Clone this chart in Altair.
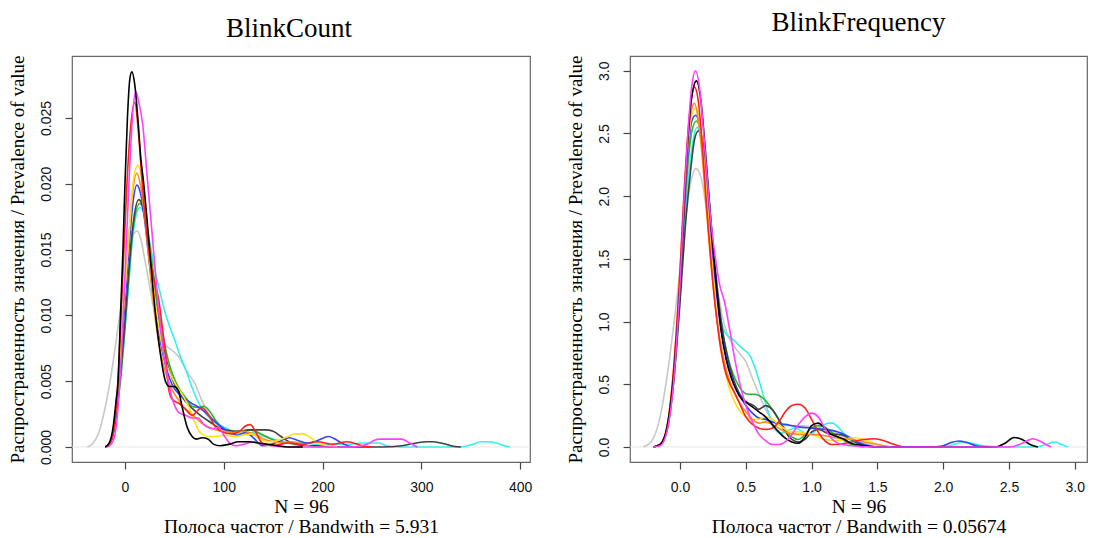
import altair as alt
import pandas as pd

# ---------------- BlinkCount (left panel) ----------------
bc_names = ["lightgray", "cyan", "green", "darkgray", "blue", "orange", "yellow", "red", "magenta", "black"]
bc_colors = ["#C8C8C8", "#33F0F0", "#2DB52D", "#404040", "#3344FF", "#FF8C1A", "#FFE020", "#FF2020", "#FF40FF", "#000000"]

bc_x = {
    "black": [-20,-16,-12,-9,-7,-4.5,-2,0,2.5,5,7,10,13,16,19,25,31,36,41,45,50,54,58,63,68,72,78,84,90,96,105,115,125,135,145,155,165,180],
    "magenta": [-18,-14,-10,-6,-3,0,4,8,11,14,18,22,26,30,34,38,42,46,50,55,62,68,74,80,88,95,100,106,112,120,130,140,150,160,175,200,230,245,252,258,265,272,280,288,296],
    "red": [-20,-15,-11,-7,-4,-1,2,6,10,13,17,21,25,30,34,38,41,44,48,55,62,68,74,78,84,92,100,108,116,122,127,132,139,150,165,180,195,210,225,240,250],
    "yellow": [-20,-16,-12,-8,-4,0,4,8,13,17,21,25,30,35,40,45,51,58,65,70,75,80,85,92,100,110,120,128,135,145,155,165,172,180,188,195,205,215],
    "orange": [-20,-16,-12,-8,-4,0,4,8,12,16,20,24,28,33,38,43,48,54,60,66,72,78,85,92,100,110,120,130,140,150,160,170,180,190],
    "blue": [-20,-16,-12,-8,-4,0,4,8,12,16,20,24,28,33,38,43,48,55,62,68,75,82,90,98,106,114,122,130,139,148,158,166,175,185,195,206,215,222,230],
    "darkgray": [-20,-16,-12,-8,-4,0,4,8,14,18,22,26,30,35,40,45,50,56,62,70,78,86,94,102,110,118,126,134,142,150,158,166,175,185,195,210,225,240,260,280,295,305,312,320,330,340],
    "green": [-20,-16,-12,-8,-4,0,4,8,15,19,23,27,31,36,41,46,51,56,62,68,74,80,86,92,100,108,116,124,132,140,148,156,165,175,185,200],
    "cyan": [-20,-16,-12,-8,-4,0,4,8,15,19,23,27,31,36,41,46,51,56,62,68,75,82,90,100,110,120,130,140,150,160,170,180,195,210,225,240,250,257,265,280,300,320,340,352,360,368,376,384,390],
    "lightgray": [-38,-32,-26,-20,-15,-10,-5,0,5,9,12.5,16,20,25,30,35,40,45,55,62,71,78,85,92,100,110,120,130,140,150,160,170,180],
}
bc_y = {
    "black": [0,.0003,.0015,.0035,.005,.010,.015,.020,.025,.028,.0285,.0275,.025,.022,.020,.015,.010,.007,.005,.0046,.0046,.0043,.003,.0015,.0008,.0006,.0007,.0006,.0002,.0001,.0002,.0004,.0004,.0003,.0002,.0001,0,0],
    "magenta": [0,.0002,.001,.004,.008,.013,.020,.0255,.027,.0262,.0245,.021,.0175,.014,.0105,.0078,.0058,.0042,.0032,.0026,.0024,.0022,.0022,.0017,.0014,.0015,.0009,.0003,.0001,.0002,.0004,.0002,.0001,0,0,0,0,.0002,.0005,.0006,.0006,.0006,.0006,.0003,0],
    "red": [0,.0003,.0015,.005,.010,.015,.020,.0245,.0262,.0245,.0205,.017,.0145,.0125,.0113,.009,.0072,.0045,.0036,.0033,.0028,.0024,.0028,.003,.0025,.0015,.0011,.001,.0012,.0016,.0017,.0012,.0003,.0001,.0003,.0002,.0004,.0002,.0004,.0001,0],
    "yellow": [0,.0002,.0012,.004,.008,.012,.016,.020,.0214,.0205,.018,.015,.0115,.0088,.0068,.0057,.0048,.004,.003,.002,.0012,.0009,.0008,.0008,.0009,.0008,.0009,.0010,.0007,.0004,.0005,.0008,.001,.001,.0007,.0003,.0001,0],
    "orange": [0,.0002,.0012,.004,.008,.012,.016,.0195,.0208,.0198,.0175,.0145,.0115,.0085,.0065,.0052,.0043,.0036,.003,.0026,.0022,.0018,.0015,.0013,.0012,.0011,.0012,.001,.0006,.0004,.0003,.0004,.0002,0],
    "blue": [0,.0002,.001,.0035,.007,.011,.015,.0185,.0199,.0192,.0172,.0145,.0118,.0092,.0072,.0057,.0047,.004,.0036,.0033,.003,.0026,.002,.0015,.0011,.0009,.0011,.0007,.0001,.0002,.0005,.0007,.0005,.0003,.0005,.0008,.0005,.0002,0],
    "darkgray": [0,.0002,.001,.003,.006,.0095,.0135,.0168,.0188,.0182,.0165,.0142,.0118,.0092,.0072,.0058,.0048,.004,.0034,.0028,.0023,.0019,.0015,.0013,.0012,.0012,.0013,.0013,.0013,.0012,.0008,.0004,.0002,.0001,.0001,0,0,0,0,.0001,.0003,.0004,.0004,.0003,.0001,0],
    "green": [0,.0002,.001,.003,.0055,.009,.013,.0165,.0185,.018,.0163,.0142,.012,.0095,.0075,.006,.005,.0043,.0037,.0031,.003,.0031,.0027,.002,.0014,.0012,.0012,.0013,.0012,.0009,.0006,.0004,.0003,.0002,.0001,0],
    "cyan": [0,.0002,.0009,.0028,.0055,.009,.0125,.016,.0182,.0178,.0165,.0148,.0132,.0116,.0101,.009,.008,.0069,.0058,.0045,.0033,.0025,.0019,.0015,.0012,.001,.0011,.0009,.0006,.0004,.0003,.0003,.0002,.0002,.0002,.0003,.0003,.0003,.0001,0,0,0,0,.0002,.0004,.0004,.0003,.0001,0],
    "lightgray": [0,.0003,.0012,.003,.005,.0075,.0102,.0128,.0152,.0162,.0164,.0158,.0143,.0122,.0102,.0087,.0078,.0075,.0068,.0058,.0048,.0035,.0025,.0018,.0013,.0011,.001,.0009,.0008,.0006,.0004,.0002,0],
}

# ---------------- BlinkFrequency (right panel) ----------------
bf_names = ["lightgray", "cyan", "green", "darkgray", "blue", "yellow", "orange", "red", "black", "magenta"]
bf_colors = ["#C8C8C8", "#33F0F0", "#2DB52D", "#404040", "#3344FF", "#FFE020", "#FF8C1A", "#FF2020", "#000000", "#FF40FF"]

bf_x = {
    "black": [-0.2,-0.15,-0.1,-0.05,0,0.03,0.06,0.09,0.125,0.16,0.19,0.22,0.25,0.28,0.31,0.35,0.39,0.43,0.47,0.51,0.55,0.6,0.65,0.7,0.75,0.8,0.85,0.9,0.95,1.0,1.05,1.1,1.15,1.2,1.25,1.3,1.4,1.5,1.6,1.8,2.0,2.2,2.4,2.47,2.54,2.6,2.66,2.72],
    "darkgray": [-0.2,-0.15,-0.1,-0.05,0,0.04,0.08,0.11,0.14,0.17,0.2,0.23,0.26,0.29,0.32,0.36,0.4,0.44,0.48,0.52,0.56,0.6,0.65,0.7,0.75,0.8,0.85,0.9,0.95,1.0,1.05,1.1,1.15,1.2,1.25,1.3,1.35,1.4,1.5],
    "red": [-0.2,-0.15,-0.1,-0.05,0,0.03,0.06,0.09,0.11,0.14,0.17,0.2,0.23,0.26,0.3,0.34,0.38,0.42,0.46,0.5,0.55,0.6,0.65,0.7,0.75,0.8,0.85,0.9,0.95,1.0,1.05,1.1,1.15,1.2,1.3,1.4,1.48,1.55,1.6,1.7],
    "magenta": [-0.2,-0.15,-0.1,-0.05,0,0.03,0.06,0.09,0.117,0.15,0.18,0.21,0.24,0.27,0.3,0.34,0.38,0.42,0.46,0.5,0.55,0.6,0.65,0.7,0.75,0.8,0.85,0.9,0.95,1.0,1.05,1.1,1.15,1.2,1.3,1.5,2.0,2.5,2.58,2.63,2.68,2.73,2.78,2.82],
    "orange": [-0.2,-0.15,-0.1,-0.05,0,0.03,0.06,0.09,0.11,0.14,0.17,0.2,0.23,0.26,0.3,0.34,0.38,0.42,0.46,0.5,0.55,0.6,0.65,0.7,0.75,0.8,0.9,1.0,1.1,1.2,1.3,1.4,1.5,1.6],
    "yellow": [-0.2,-0.15,-0.1,-0.05,0,0.03,0.06,0.09,0.12,0.15,0.18,0.21,0.24,0.27,0.3,0.34,0.38,0.42,0.46,0.5,0.55,0.6,0.65,0.7,0.75,0.8,0.85,0.9,1.0,1.1,1.2,1.28,1.33,1.4,1.5,1.6],
    "blue": [-0.2,-0.15,-0.1,-0.05,0,0.03,0.06,0.09,0.12,0.15,0.18,0.21,0.24,0.27,0.3,0.34,0.38,0.42,0.46,0.5,0.55,0.6,0.65,0.7,0.8,0.9,1.0,1.1,1.2,1.25,1.3,1.35,1.4,1.5,1.7,1.9,2.0,2.06,2.12,2.18,2.25,2.35],
    "green": [-0.2,-0.15,-0.1,-0.05,0,0.03,0.06,0.09,0.125,0.16,0.19,0.22,0.25,0.28,0.31,0.35,0.39,0.43,0.47,0.52,0.56,0.6,0.65,0.7,0.75,0.8,0.85,0.9,0.95,1.0,1.05,1.1,1.15,1.2,1.25,1.3,1.4],
    "cyan": [-0.2,-0.15,-0.1,-0.05,0,0.04,0.08,0.11,0.13,0.16,0.19,0.22,0.25,0.28,0.31,0.35,0.4,0.44,0.48,0.53,0.58,0.62,0.67,0.72,0.77,0.82,0.87,0.92,0.97,1.02,1.08,1.13,1.16,1.2,1.25,1.3,1.4,1.5,1.8,2.0,2.08,2.15,2.22,2.3,2.5,2.7,2.78,2.85,2.9,2.95],
    "lightgray": [-0.28,-0.22,-0.16,-0.1,-0.05,0,0.04,0.08,0.12,0.16,0.2,0.24,0.28,0.32,0.36,0.4,0.45,0.5,0.55,0.6,0.65,0.7,0.75,0.8,0.9,1.0,1.1,1.2,1.3,1.4,1.5],
}
bf_y = {
    "black": [0,.02,.15,.55,1.3,1.9,2.45,2.8,2.92,2.75,2.4,2.0,1.6,1.25,.95,.7,.55,.45,.38,.35,.32,.28,.24,.18,.12,.07,.04,.03,.08,.17,.19,.15,.1,.08,.06,.03,.01,0,0,0,0,0,0,.03,.075,.06,.02,0],
    "darkgray": [0,.02,.13,.5,1.15,1.75,2.2,2.45,2.52,2.45,2.2,1.85,1.5,1.2,.95,.72,.56,.45,.38,.35,.33,.3,.33,.3,.22,.12,.06,.04,.06,.12,.14,.12,.1,.1,.09,.06,.03,.01,0],
    "red": [0,.02,.15,.6,1.4,2.0,2.5,2.8,2.87,2.75,2.4,1.95,1.55,1.2,.85,.62,.5,.42,.33,.24,.18,.15,.14,.15,.2,.28,.33,.34,.31,.22,.12,.05,.02,.02,.04,.06,.066,.05,.03,0],
    "magenta": [0,.01,.12,.5,1.3,1.95,2.5,2.88,3.0,2.85,2.5,2.1,1.75,1.5,1.3,1.15,.92,.68,.48,.33,.2,.1,.05,.02,.02,.04,.1,.18,.24,.27,.24,.15,.07,.03,.01,0,0,0,.02,.045,.066,.05,.02,0],
    "orange": [0,.02,.16,.6,1.4,2.0,2.45,2.7,2.74,2.6,2.3,1.9,1.52,1.2,.88,.66,.52,.42,.34,.28,.22,.19,.2,.18,.15,.12,.1,.1,.09,.07,.06,.04,.02,0],
    "yellow": [0,.02,.15,.58,1.35,1.95,2.4,2.65,2.7,2.6,2.3,1.9,1.5,1.15,.85,.62,.45,.35,.28,.24,.22,.22,.24,.22,.18,.14,.12,.12,.1,.06,.05,.07,.074,.06,.02,0],
    "blue": [0,.02,.14,.55,1.3,1.9,2.35,2.6,2.645,2.55,2.3,1.95,1.6,1.3,1.02,.78,.6,.48,.4,.33,.27,.23,.22,.2,.18,.16,.15,.14,.12,.1,.07,.04,.02,0,0,0,.01,.035,.048,.035,.01,0],
    "green": [0,.02,.13,.52,1.25,1.8,2.25,2.52,2.6,2.5,2.22,1.88,1.55,1.25,1.0,.78,.62,.52,.45,.42,.42,.41,.37,.3,.22,.14,.08,.06,.1,.15,.17,.16,.12,.08,.05,.02,0],
    "cyan": [0,.02,.12,.5,1.2,1.85,2.3,2.5,2.55,2.45,2.2,1.85,1.5,1.22,1.02,.9,.86,.82,.78,.73,.6,.46,.28,.14,.11,.13,.15,.13,.1,.12,.17,.19,.19,.16,.1,.05,.02,0,0,0,.02,.04,.03,.01,0,0,.02,.04,.02,0],
    "lightgray": [0,.04,.2,.55,.95,1.4,1.8,2.1,2.22,2.15,1.9,1.6,1.3,1.05,.9,.82,.75,.68,.55,.42,.3,.22,.18,.17,.17,.16,.14,.1,.06,.03,0],
}

bc_ticks_x = [0, 100, 200, 300, 400]
bc_ticks_y = [0.000, 0.005, 0.010, 0.015, 0.020, 0.025]
bf_ticks_x = [0.0, 0.5, 1.0, 1.5, 2.0, 2.5, 3.0]
bf_ticks_y = [0.0, 0.5, 1.0, 1.5, 2.0, 2.5, 3.0]

ytitle = "Распространенность значения / Prevalence of value"
SERIF = "Liberation Serif"
SANS = "Liberation Sans"


def long_frame(names, xs, ys):
    rows = []
    for k, n in enumerate(names):
        for xv, yv in zip(xs[n], ys[n]):
            rows.append({"series": n, "x": xv, "y": yv, "k": k})
    return pd.DataFrame(rows)


def panel(names, colors, xs, ys, xdom, ydom, xt, yt, xfmt, yfmt, title, xtitle, w, h, toff, tdx):
    df = long_frame(names, xs, ys)
    xsc = alt.Scale(domain=xdom, nice=False, zero=False)
    ysc = alt.Scale(domain=ydom, nice=False, zero=False)
    xaxis = alt.Axis(values=xt, format=xfmt, title=xtitle, grid=False, domain=False, tickSize=7,
                     labelPadding=11, titlePadding=3, titleLineHeight=20, titleFontSize=19.5)
    yaxis = alt.Axis(values=yt, format=yfmt, title=ytitle, grid=False, domain=False, tickSize=7,
                     labelAngle=270, labelAlign="center", labelBaseline="bottom",
                     labelPadding=12, titlePadding=12, titleFontSize=19)
    lines = alt.Chart(df).mark_line(strokeWidth=1.6, interpolate="monotone", clip=True).encode(
        x=alt.X("x:Q", scale=xsc, axis=xaxis),
        y=alt.Y("y:Q", scale=ysc, axis=yaxis),
        color=alt.Color("series:N", scale=alt.Scale(domain=names, range=colors), legend=None),
        order=alt.Order("k:Q"),
    )
    zero = alt.Chart(pd.DataFrame({"z": [0.0]})).mark_rule(color="#E6E6E6", strokeWidth=1).encode(
        y=alt.Y("z:Q", scale=ysc, axis=yaxis)
    )
    return alt.layer(zero, lines).properties(
        width=w, height=h,
        title=alt.TitleParams(title, font=SERIF, fontSize=27, fontWeight="normal", offset=toff,
                              dx=tdx, color="#000", frame="group"),
    )


left = panel(bc_names, bc_colors, bc_x, bc_y, [-53.6, 410], [-0.00114, 0.02971],
             bc_ticks_x, bc_ticks_y, "d", ".3f", "BlinkCount",
             ["N = 96", "Полоса частот / Bandwith = 5.931"], 458, 406, 12, -12)
right = panel(bf_names, bf_colors, bf_x, bf_y, [-0.38, 3.093], [-0.12, 3.118],
              bf_ticks_x, bf_ticks_y, ".1f", ".1f", "BlinkFrequency",
              ["N = 96", "Полоса частот / Bandwith = 0.05674"], 457, 406, 18, 0)

chart = alt.hconcat(left, right, spacing=32).configure(
    padding={"left": 7, "top": 8, "right": 4, "bottom": 0},
    background="white",
).configure_view(
    stroke="#666666", strokeWidth=1.2
).configure_axis(
    labelFont=SANS, labelFontSize=14, labelColor="#111", tickColor="#444", tickWidth=1.2,
    titleFont=SERIF, titleFontWeight="normal", titleColor="#000",
)

chart.save("out.html", embed_options={"renderer": "svg", "actions": False})
